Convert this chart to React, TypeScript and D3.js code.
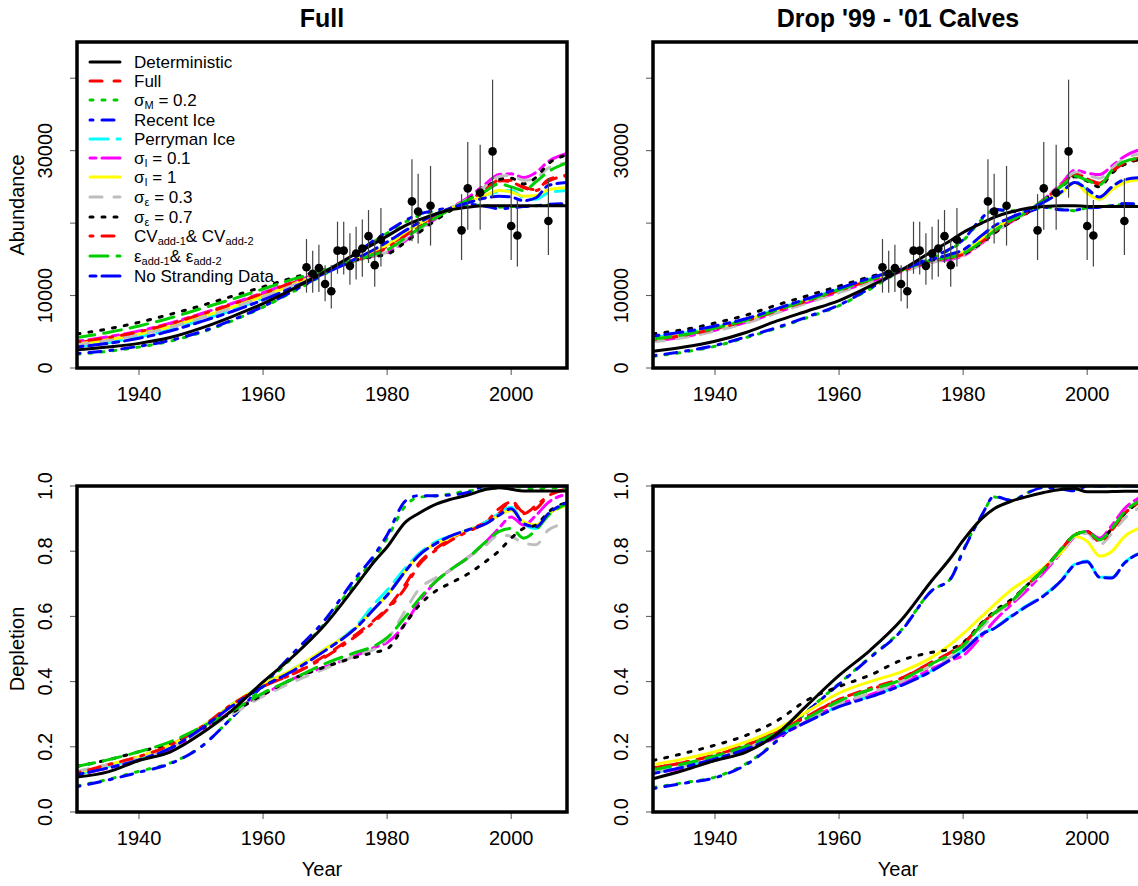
import React from 'react';
import * as d3 from 'd3';

// ---------------- DATA ----------------
const YEARS = [1930, 1935, 1940, 1945, 1950, 1955, 1960, 1965, 1970, 1975, 1978, 1980, 1983, 1985, 1988, 1990, 1993, 1996, 1998, 2000, 2002, 2004, 2006, 2009];

const SERIES_NAMES = ['Deterministic', 'Full', 'sigmaM=0.2', 'Recent Ice', 'Perryman Ice', 'sigmaI=0.1', 'sigmaI=1', 'sigmaE=0.3', 'sigmaE=0.7', 'CV add', 'eps add', 'No Stranding Data'];
const SERIES_COLORS = ['#000000', '#FF0000', '#00CD00', '#0000FF', '#00FFFF', '#FF00FF', '#FFFF00', '#BEBEBE', '#000000', '#FF0000', '#00CD00', '#0000FF'];
const SERIES_LTY = ['solid', 'dashed', 'dotted', 'dotdash', 'longdash', 'twodash', 'solid', 'dashed', 'dotted', 'dotdash', 'longdash', 'twodash'];

// Abundance, "Full" scenario (series order as SERIES_NAMES)
const abundFull = [
  [2500, 2900, 3400, 4200, 5500, 7100, 8900, 11000, 13300, 15800, 17200, 18200, 19700, 20400, 21300, 21800, 22200, 22400, 22400, 22400, 22400, 22400, 22400, 22400],
  [3500, 4100, 4900, 6000, 7300, 8700, 10200, 11800, 13300, 14900, 15900, 16800, 18500, 19600, 21000, 21900, 23000, 24500, 25800, 25900, 25000, 24600, 26000, 26600],
  [1900, 2300, 2900, 3700, 4900, 6500, 8400, 10600, 13000, 15700, 17500, 18600, 20200, 21000, 21700, 22000, 22500, 22400, 22200, 22300, 22300, 22400, 22500, 22600],
  [2000, 2400, 3000, 3800, 5000, 6600, 8500, 10700, 13100, 15800, 17700, 18800, 20400, 21200, 21800, 22100, 22600, 22300, 22000, 22100, 22300, 22400, 22600, 22700],
  [3000, 3500, 4300, 5300, 6600, 8000, 9600, 11400, 13200, 15000, 16200, 17100, 18800, 19800, 21200, 22000, 22900, 23900, 24300, 24500, 23500, 23300, 24200, 24500],
  [3700, 4300, 5100, 6200, 7500, 8900, 10400, 11900, 13400, 15000, 15500, 15900, 17600, 18800, 20700, 21900, 23500, 25500, 26700, 26800, 26300, 27000, 28500, 29600],
  [3300, 3900, 4700, 5700, 7000, 8400, 9900, 11600, 13300, 15000, 16100, 17000, 18700, 19800, 21200, 22000, 22900, 23900, 24500, 24300, 23700, 23800, 24600, 24900],
  [3200, 3800, 4600, 5600, 6900, 8300, 9800, 11500, 13200, 14800, 15500, 16000, 17800, 19000, 20800, 21900, 23300, 25200, 26400, 26600, 25900, 26200, 27600, 28300],
  [4700, 5400, 6300, 7400, 8600, 9900, 11200, 12500, 13600, 14900, 15400, 15700, 17400, 18600, 20500, 21600, 23200, 25000, 26000, 26200, 25400, 26300, 28200, 29400],
  [3600, 4200, 5000, 6100, 7400, 8800, 10300, 11900, 13400, 14800, 15800, 16600, 18300, 19400, 20900, 21900, 23100, 24700, 25900, 25700, 24900, 24500, 25800, 26500],
  [4200, 4900, 5800, 6900, 8200, 9500, 10900, 12300, 13500, 14900, 15700, 16300, 18000, 19200, 20800, 21800, 23200, 24500, 25400, 25000, 24500, 25700, 27100, 28300],
  [2900, 3400, 4100, 5100, 6400, 7800, 9400, 11200, 13100, 15100, 16400, 17400, 19000, 20000, 21300, 22000, 22800, 23500, 23700, 23600, 23100, 23500, 25200, 25600],
];

// Abundance, "Drop '99 - '01 Calves" scenario
const abundDrop = [
  [2300, 2900, 3700, 4900, 6500, 7900, 9300, 11300, 13500, 16100, 17600, 18700, 20000, 20800, 21600, 22000, 22300, 22400, 22400, 22300, 22300, 22300, 22300, 22300],
  [3900, 4500, 5400, 6500, 7900, 9300, 10700, 12100, 13400, 14800, 15200, 15700, 17400, 18800, 20400, 21300, 23200, 25300, 26800, 26200, 25500, 27200, 28400, 29000],
  [1600, 2200, 3000, 4200, 5500, 7000, 8600, 10900, 13400, 15200, 16400, 17600, 20500, 21800, 21700, 21600, 22200, 21900, 21700, 22100, 22300, 22400, 22600, 22500],
  [1700, 2300, 3100, 4300, 5600, 7100, 8700, 11000, 13500, 15300, 16500, 17700, 20700, 21900, 21600, 21500, 22200, 21800, 21800, 22100, 22200, 22400, 22700, 22600],
  [4200, 4800, 5600, 6700, 8100, 9500, 10900, 12300, 13500, 14900, 15500, 16100, 18000, 19400, 20800, 21500, 22900, 24300, 25800, 24400, 23300, 24700, 25800, 26200],
  [3700, 4300, 5200, 6300, 7700, 9100, 10500, 11900, 13300, 14600, 15000, 15500, 17200, 18600, 20300, 21300, 23300, 25600, 27300, 26900, 26700, 27900, 29200, 30300],
  [4000, 4600, 5500, 6600, 8000, 9400, 10800, 12200, 13500, 14900, 15400, 16000, 17800, 19200, 20700, 21500, 23000, 24300, 25600, 24100, 23300, 24600, 25600, 26000],
  [3600, 4200, 5100, 6200, 7600, 9000, 10400, 11800, 13200, 14600, 15100, 15600, 17300, 18700, 20300, 21300, 23200, 25400, 27000, 26600, 26200, 27600, 28900, 29600],
  [4700, 5300, 6200, 7300, 8700, 10000, 11300, 12600, 13700, 14900, 15300, 15700, 17300, 18600, 20300, 21200, 23100, 25100, 26400, 25800, 25000, 26900, 28100, 28800],
  [3900, 4500, 5400, 6500, 7900, 9300, 10700, 12100, 13400, 14800, 15200, 15700, 17400, 18800, 20400, 21300, 23200, 25300, 26700, 26100, 25400, 27100, 28300, 28900],
  [4000, 4600, 5500, 6600, 8000, 9400, 10800, 12200, 13500, 14900, 15300, 15800, 17500, 18900, 20500, 21400, 23200, 25200, 26500, 25900, 25300, 27300, 28500, 29000],
  [4400, 5000, 5800, 6800, 8200, 9600, 11000, 12400, 13600, 15000, 15700, 16300, 18300, 19600, 20900, 21600, 22900, 24400, 25600, 24700, 23600, 25000, 26000, 26300],
];

// Depletion, "Full" scenario
const deplFull = [
  [0.107, 0.123, 0.158, 0.184, 0.24, 0.312, 0.399, 0.48, 0.575, 0.695, 0.77, 0.813, 0.89, 0.915, 0.945, 0.958, 0.972, 0.99, 0.995, 0.99, 0.985, 0.985, 0.985, 0.985],
  [0.12, 0.145, 0.17, 0.205, 0.26, 0.33, 0.385, 0.425, 0.48, 0.545, 0.59, 0.625, 0.7, 0.76, 0.81, 0.835, 0.865, 0.89, 0.915, 0.955, 0.92, 0.93, 0.97, 0.99],
  [0.08, 0.1, 0.125, 0.15, 0.2, 0.29, 0.385, 0.48, 0.58, 0.71, 0.78, 0.84, 0.94, 0.965, 0.97, 0.975, 0.985, 0.99, 0.995, 1.0, 0.995, 0.99, 0.995, 0.99],
  [0.078, 0.098, 0.122, 0.148, 0.2, 0.29, 0.39, 0.49, 0.59, 0.72, 0.79, 0.85, 0.955, 0.97, 0.97, 0.972, 0.98, 1.0, 1.0, 1.0, 1.0, 1.0, 1.0, 1.0],
  [0.115, 0.14, 0.165, 0.2, 0.26, 0.33, 0.39, 0.44, 0.5, 0.57, 0.64, 0.68, 0.75, 0.79, 0.83, 0.845, 0.865, 0.89, 0.915, 0.935, 0.885, 0.87, 0.915, 0.945],
  [0.115, 0.135, 0.16, 0.19, 0.245, 0.31, 0.36, 0.41, 0.445, 0.48, 0.505, 0.52, 0.58, 0.64, 0.71, 0.74, 0.78, 0.83, 0.87, 0.905, 0.88, 0.91, 0.95, 0.975],
  [0.12, 0.145, 0.17, 0.205, 0.26, 0.33, 0.39, 0.44, 0.5, 0.565, 0.625, 0.665, 0.74, 0.785, 0.825, 0.84, 0.865, 0.885, 0.91, 0.925, 0.89, 0.88, 0.915, 0.94],
  [0.125, 0.145, 0.165, 0.195, 0.245, 0.3, 0.355, 0.4, 0.44, 0.48, 0.5, 0.53, 0.62, 0.68, 0.72, 0.74, 0.78, 0.82, 0.85, 0.845, 0.825, 0.82, 0.865, 0.885],
  [0.14, 0.16, 0.185, 0.21, 0.255, 0.305, 0.36, 0.41, 0.445, 0.475, 0.49, 0.5, 0.58, 0.63, 0.68, 0.7, 0.73, 0.77, 0.8, 0.84, 0.87, 0.88, 0.92, 0.95],
  [0.12, 0.145, 0.17, 0.205, 0.26, 0.33, 0.385, 0.425, 0.475, 0.54, 0.585, 0.62, 0.69, 0.755, 0.805, 0.83, 0.86, 0.89, 0.93, 0.95, 0.915, 0.94, 0.97, 0.99],
  [0.14, 0.16, 0.185, 0.215, 0.26, 0.31, 0.365, 0.41, 0.455, 0.49, 0.51, 0.535, 0.6, 0.65, 0.71, 0.74, 0.78, 0.83, 0.86, 0.87, 0.84, 0.865, 0.91, 0.945],
  [0.115, 0.135, 0.16, 0.195, 0.255, 0.325, 0.385, 0.435, 0.495, 0.565, 0.625, 0.665, 0.74, 0.785, 0.825, 0.845, 0.865, 0.885, 0.91, 0.93, 0.885, 0.875, 0.915, 0.95],
];

// Depletion, "Drop '99 - '01 Calves" scenario
const deplDrop = [
  [0.102, 0.128, 0.158, 0.184, 0.24, 0.33, 0.419, 0.496, 0.588, 0.711, 0.78, 0.833, 0.9, 0.93, 0.955, 0.966, 0.98, 0.99, 0.992, 0.982, 0.982, 0.983, 0.984, 0.984],
  [0.135, 0.152, 0.175, 0.205, 0.245, 0.295, 0.345, 0.375, 0.41, 0.46, 0.49, 0.516, 0.578, 0.61, 0.65, 0.69, 0.745, 0.81, 0.85, 0.86, 0.83, 0.87, 0.915, 0.96],
  [0.075, 0.09, 0.107, 0.148, 0.22, 0.312, 0.394, 0.475, 0.557, 0.68, 0.716, 0.803, 0.91, 0.966, 0.956, 0.976, 0.997, 0.997, 0.99, 1.0, 1.0, 1.0, 1.0, 1.0],
  [0.072, 0.088, 0.105, 0.145, 0.218, 0.31, 0.392, 0.473, 0.555, 0.68, 0.716, 0.8, 0.91, 0.968, 0.955, 0.975, 0.995, 0.99, 0.985, 1.0, 1.0, 1.0, 1.0, 1.0],
  [0.12, 0.14, 0.165, 0.195, 0.235, 0.28, 0.325, 0.355, 0.39, 0.435, 0.47, 0.496, 0.547, 0.565, 0.605, 0.63, 0.665, 0.715, 0.76, 0.77, 0.72, 0.72, 0.765, 0.8],
  [0.12, 0.135, 0.16, 0.19, 0.23, 0.28, 0.33, 0.36, 0.395, 0.44, 0.465, 0.48, 0.54, 0.585, 0.64, 0.675, 0.735, 0.8, 0.845, 0.86, 0.84, 0.88, 0.93, 0.97],
  [0.145, 0.163, 0.185, 0.215, 0.255, 0.31, 0.365, 0.4, 0.43, 0.475, 0.515, 0.547, 0.6, 0.635, 0.685, 0.71, 0.75, 0.8, 0.845, 0.83, 0.785, 0.8, 0.845, 0.875],
  [0.125, 0.14, 0.165, 0.195, 0.235, 0.28, 0.33, 0.365, 0.4, 0.45, 0.475, 0.5, 0.565, 0.605, 0.645, 0.685, 0.74, 0.805, 0.845, 0.855, 0.82, 0.855, 0.9, 0.94],
  [0.158, 0.18, 0.205, 0.235, 0.28, 0.345, 0.385, 0.42, 0.465, 0.49, 0.5, 0.52, 0.58, 0.615, 0.655, 0.69, 0.745, 0.81, 0.85, 0.86, 0.835, 0.87, 0.915, 0.955],
  [0.135, 0.152, 0.175, 0.205, 0.245, 0.295, 0.345, 0.38, 0.41, 0.46, 0.49, 0.516, 0.575, 0.61, 0.65, 0.69, 0.745, 0.81, 0.85, 0.86, 0.83, 0.865, 0.915, 0.955],
  [0.13, 0.148, 0.172, 0.202, 0.242, 0.29, 0.34, 0.375, 0.405, 0.455, 0.485, 0.51, 0.575, 0.61, 0.65, 0.69, 0.745, 0.81, 0.85, 0.86, 0.835, 0.87, 0.92, 0.96],
  [0.118, 0.138, 0.163, 0.193, 0.233, 0.278, 0.323, 0.353, 0.388, 0.433, 0.468, 0.494, 0.545, 0.563, 0.603, 0.628, 0.663, 0.713, 0.758, 0.768, 0.72, 0.718, 0.763, 0.798],
];

// Observed abundance estimates with error bars
const obsYear = [1967, 1968, 1969, 1970, 1971, 1972, 1973, 1974, 1975, 1976, 1977, 1978, 1979, 1984, 1985, 1987, 1992, 1993, 1995, 1997, 2000, 2001, 2006];
const obsValue = [13900, 13000, 13800, 11600, 10600, 16200, 16200, 14100, 15800, 16500, 18200, 14200, 17700, 23000, 21600, 22400, 19000, 24800, 24200, 29900, 19600, 18300, 20300];
const obsLow = [10400, 10400, 10500, 9200, 8200, 13000, 12900, 11500, 12200, 12600, 14500, 11200, 14000, 17500, 17200, 16900, 14900, 19100, 19100, 23500, 14900, 14000, 15600];
const obsHigh = [17800, 16200, 17000, 14200, 14200, 20200, 20200, 18600, 19500, 20500, 21800, 17700, 22100, 28800, 26800, 27900, 24000, 31200, 30800, 39800, 25000, 23200, 26200];

const X_TICKS = [1940, 1960, 1980, 2000];
const ABUND_TICKS = [0, 10000, 20000, 30000, 40000];
const ABUND_TICK_LABELS = ['0', '10000', '', '30000', ''];
const DEPL_TICKS = [0, 0.2, 0.4, 0.6, 0.8, 1.0];
const DEPL_TICK_LABELS = ['0.0', '0.2', '0.4', '0.6', '0.8', '1.0'];

type Part = [string, boolean];
const LEGEND_LABELS: Part[][] = [
  [['Deterministic', false]],
  [['Full', false]],
  [['σ', false], ['M', true], [' = 0.2', false]],
  [['Recent Ice', false]],
  [['Perryman Ice', false]],
  [['σ', false], ['I', true], [' = 0.1', false]],
  [['σ', false], ['I', true], [' = 1', false]],
  [['σ', false], ['ε', true], [' = 0.3', false]],
  [['σ', false], ['ε', true], [' = 0.7', false]],
  [['CV', false], ['add-1', true], ['& CV', false], ['add-2', true]],
  [['ε', false], ['add-1', true], ['& ε', false], ['add-2', true]],
  [['No Stranding Data', false]],
];

// ---------------- LAYOUT ----------------
const W = 1138;
const H = 886;
const PW = 490;
const PH = 326;
const COL_X = [77, 653];
const ROW_Y = [42, 486];
const LWD = 3;
const FONT = '"Liberation Sans", Arial, Helvetica, sans-serif';

const DASH: Record<string, string | undefined> = {
  solid: undefined,
  dashed: `${4 * LWD},${4 * LWD}`,
  dotted: `${1 * LWD},${3 * LWD}`,
  dotdash: `${1 * LWD},${3 * LWD},${4 * LWD},${3 * LWD}`,
  longdash: `${6 * LWD},${3 * LWD}`,
  twodash: `${2 * LWD},${2 * LWD},${6 * LWD},${2 * LWD}`,
};

const LEGEND_ROWS = [62, 81, 100, 120, 139, 158, 177, 197, 217, 236, 256, 276];

type PanelProps = {
  id: string;
  col: number;
  row: number;
  data: number[][];
  kind: 'abund' | 'depl';
  title?: string;
  legend?: boolean;
  xlab?: string;
  ylab?: string;
};

function Panel({ id, col, row, data, kind, title, legend, xlab, ylab }: PanelProps) {
  const x0 = COL_X[col];
  const y0 = ROW_Y[row];
  const x = d3.scaleLinear().domain([1930, 2009]).range([x0, x0 + PW]);
  const y = kind === 'abund'
    ? d3.scaleLinear().domain([0, 45000]).range([y0 + PH, y0])
    : d3.scaleLinear().domain([0, 1]).range([y0 + PH, y0]);
  const line = d3.line<number>()
    .x((_, i) => x(YEARS[i]))
    .y((d) => y(d))
    .curve(d3.curveMonotoneX);
  const yTicks = kind === 'abund' ? ABUND_TICKS : DEPL_TICKS;
  const yLabels = kind === 'abund' ? ABUND_TICK_LABELS : DEPL_TICK_LABELS;
  const order = [1, 2, 3, 4, 5, 6, 7, 8, 9, 10, 11, 0];
  const clipId = `clip-${id}`;
  const yLabelX = x0 - 25;
  return (
    <g>
      <defs>
        <clipPath id={clipId}>
          <rect x={x0} y={y0} width={PW} height={PH} />
        </clipPath>
      </defs>
      {title && (
        <text x={x0 + PW / 2} y={27} textAnchor="middle" fontFamily={FONT} fontWeight="bold" fontSize={25}>{title}</text>
      )}
      {X_TICKS.map((t) => (
        <g key={`xt${t}`}>
          <line x1={x(t)} x2={x(t)} y1={y0 + PH} y2={y0 + PH + 7} stroke="#555" strokeWidth={1} />
          <text x={x(t)} y={y0 + PH + 33} textAnchor="middle" fontFamily={FONT} fontSize={20}>{t}</text>
        </g>
      ))}
      {yTicks.map((t, i) => (
        <g key={`yt${t}`}>
          <line x1={x0 - 7} x2={x0} y1={y(t)} y2={y(t)} stroke="#555" strokeWidth={1} />
          {yLabels[i] && (
            <text x={yLabelX} y={y(t)} transform={`rotate(-90 ${yLabelX} ${y(t)})`} textAnchor="middle" fontFamily={FONT} fontSize={20}>{yLabels[i]}</text>
          )}
        </g>
      ))}
      {ylab && (
        <text x={24} y={y0 + PH / 2} transform={`rotate(-90 24 ${y0 + PH / 2})`} textAnchor="middle" fontFamily={FONT} fontSize={20}>{ylab}</text>
      )}
      {xlab && (
        <text x={x0 + PW / 2} y={y0 + PH + 64} textAnchor="middle" fontFamily={FONT} fontSize={20}>{xlab}</text>
      )}
      <g clipPath={`url(#${clipId})`}>
        {order.map((s) => (
          <path key={`s${s}`} d={line(data[s]) || ''} fill="none" stroke={SERIES_COLORS[s]} strokeWidth={LWD}
            strokeDasharray={DASH[SERIES_LTY[s]]} strokeLinecap="round" strokeLinejoin="round" />
        ))}
        {kind === 'abund' && obsYear.map((yr, i) => (
          <g key={`o${i}`}>
            <line x1={x(yr)} x2={x(yr)} y1={y(obsLow[i])} y2={y(obsHigh[i])} stroke="#444" strokeWidth={1.2} />
            <circle cx={x(yr)} cy={y(obsValue[i])} r={4.3} fill="#000" />
          </g>
        ))}
      </g>
      <rect x={x0} y={y0} width={PW} height={PH} fill="none" stroke="#000" strokeWidth={3.5} />
      {legend && LEGEND_LABELS.map((parts, i) => {
        const ly = LEGEND_ROWS[i];
        return (
          <g key={`lg${i}`}>
            <line x1={90} x2={120} y1={ly} y2={ly} stroke={SERIES_COLORS[i]} strokeWidth={LWD}
              strokeDasharray={DASH[SERIES_LTY[i]]} strokeLinecap="round" />
            <text x={134} y={ly + 6} fontFamily={FONT} fontSize={17}>
              {parts.map(([t, sub], k) => {
                const prevSub = k > 0 && parts[k - 1][1];
                const dy = sub ? 3 : prevSub ? -3 : 0;
                return (
                  <tspan key={k} dy={dy} fontSize={sub ? 11 : 17}>{t}</tspan>
                );
              })}
            </text>
          </g>
        );
      })}
    </g>
  );
}

export default function App() {
  return (
    <svg width={W} height={H} viewBox={`0 0 ${W} ${H}`} style={{ position: 'absolute', left: 0, top: 0, background: '#fff' }}>
      <rect x={0} y={0} width={W} height={H} fill="#fff" />
      <Panel id="tl" col={0} row={0} data={abundFull} kind="abund" title="Full" legend ylab="Abundance" />
      <Panel id="tr" col={1} row={0} data={abundDrop} kind="abund" title="Drop '99 - '01 Calves" />
      <Panel id="bl" col={0} row={1} data={deplFull} kind="depl" ylab="Depletion" xlab="Year" />
      <Panel id="br" col={1} row={1} data={deplDrop} kind="depl" xlab="Year" />
    </svg>
  );
}
